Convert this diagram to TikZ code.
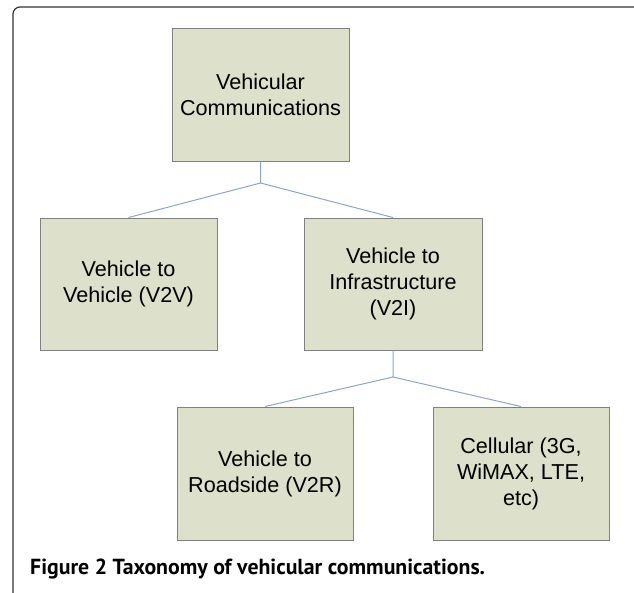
\documentclass[tikz,border=0pt]{standalone}
\usepackage{fontspec}
\setmainfont{Liberation Sans}
\newfontfamily\capfont{PT Sans}
\definecolor{boxfill}{RGB}{221,224,203}
\definecolor{boxline}{RGB}{128,128,128}
\definecolor{conn}{RGB}{140,165,205}
\definecolor{frame}{RGB}{50,50,50}
\begin{document}
\begin{tikzpicture}[x=1pt,y=-1pt,
  tbox/.style={draw=boxline,fill=boxfill,line width=1pt,minimum width=#1,align=center,
    font=\fontsize{21.6}{26}\selectfont,inner sep=0pt},
  tbox/.default=177pt,
  link/.style={draw=conn,line width=1pt}]
\useasboundingbox (0,0) rectangle (634,592);
\begin{scope}
\clip (0,0) rectangle (634,592);
\draw[frame,line width=1.2pt,rounded corners=7pt] (13,7) rectangle (650,610);
\end{scope}
\node[tbox,minimum height=133pt] (vc) at (260.5,94.5) {Vehicular\\Communications};
\node[tbox,minimum height=132pt] (v2v) at (128.5,284) {Vehicle to\\Vehicle (V2V)};
\node[tbox=178pt,minimum height=132pt] (v2i) at (393,284) {Vehicle to\\Infrastructure\\(V2I)};
\node[tbox=176pt,minimum height=133pt] (v2r) at (265,473.5) {Vehicle to\\Roadside (V2R)};
\node[tbox=176pt,minimum height=133pt] (cell) at (521,473.5) {Cellular (3G,\\WiMAX, LTE,\\etc)};
\coordinate (j1) at (260.5,183);
\coordinate (j2) at (393,377);
\draw[link] (vc.south) -- (j1) -- (v2v.north);
\draw[link] (j1) -- (v2i.north);
\draw[link] (v2i.south) -- (j2) -- (v2r.north);
\draw[link] (j2) -- (cell.north);
\node[anchor=base west,inner sep=0pt,font=\capfont\bfseries\fontsize{21.8}{26}\selectfont] (cap) at (30,574)
  {Figure 2 Taxonomy of vehicular communications.};
\end{tikzpicture}
\end{document}
